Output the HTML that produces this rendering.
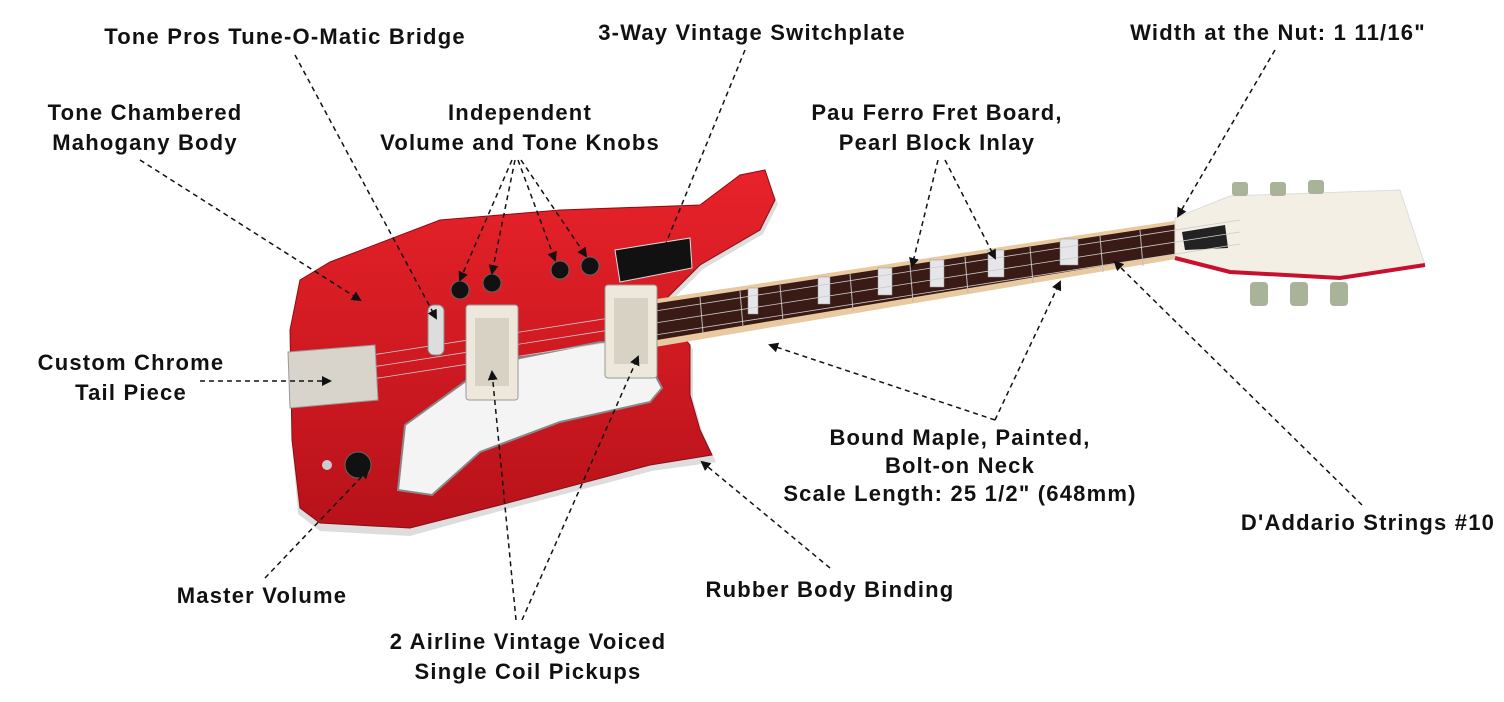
<!DOCTYPE html>
<html><head><meta charset="utf-8"><style>
html,body{margin:0;padding:0;background:#fff;}
svg{display:block;}
text{font-family:"Liberation Sans",Arial,sans-serif;font-weight:bold;font-size:22px;letter-spacing:1.2px;fill:#111;text-anchor:middle;}
.ld{stroke:#111;stroke-width:1.5;stroke-dasharray:5,4;fill:none;marker-end:url(#ah);}
</style></head><body>
<svg width="1504" height="702" viewBox="0 0 1504 702" xmlns="http://www.w3.org/2000/svg">
<defs>
<marker id="ah" markerWidth="10" markerHeight="10" refX="8" refY="5" orient="auto" markerUnits="userSpaceOnUse">
<path d="M0,0 L10,5 L0,10 Z" fill="#111"/></marker>
<linearGradient id="rb" x1="0" y1="0" x2="0" y2="1"><stop offset="0" stop-color="#e8222a"/><stop offset="1" stop-color="#b8121a"/></linearGradient>
</defs>
<path d="M300 284 L330 266 L440 224 L560 214 L700 209 L740 179 L765 174 L778 204 L763 234 L703 269 L668 304 L673 324 L693 349 L693 399 L703 434 L716 462 L652 471 L500 511 L410 536 L320 531 L298 514 L292 444 L290 334 Z" fill="#ddd"/>
<path d="M300 280 L330 262 L440 220 L560 210 L700 205 L740 175 L765 170 L775 200 L760 230 L700 265 L665 300 L670 320 L690 345 L690 395 L700 430 L712 455 L650 465 L500 505 L410 528 L320 523 L300 508 L292 440 L290 330 Z" fill="url(#rb)" stroke="#8a0e14" stroke-width="1"/>
<path d="M405 425 L470 378 L520 358 L600 342 L640 346 L662 388 L650 402 L560 422 L480 452 L432 495 L398 490 Z" fill="#f4f4f4" stroke="#888" stroke-width="2"/>
<path d="M650 300 L1180 220 L1182 258 L655 347 Z" fill="#e8c9a0"/>
<path d="M652 304 L1178 224 L1180 253 L657 340 Z" fill="#3a1a14"/>
<g fill="#e6e6ea" stroke="#999" stroke-width="0.5">
<rect x="748" y="288" width="10" height="26"/><rect x="818" y="277" width="12" height="27"/>
<rect x="878" y="268" width="14" height="27"/><rect x="930" y="260" width="14" height="27"/>
<rect x="988" y="250" width="16" height="27"/><rect x="1060" y="239" width="18" height="26"/>
</g>
<g stroke="#bbb" stroke-width="1">
<line x1="700" y1="297" x2="703" y2="333"/><line x1="740" y1="291" x2="743" y2="327"/><line x1="780" y1="285" x2="783" y2="321"/>
<line x1="850" y1="274" x2="853" y2="311"/><line x1="910" y1="265" x2="913" y2="302"/><line x1="965" y1="257" x2="968" y2="293"/>
<line x1="1030" y1="247" x2="1033" y2="283"/><line x1="1100" y1="236" x2="1103" y2="272"/><line x1="1140" y1="230" x2="1143" y2="266"/>
</g>
<path d="M1175 218 L1230 196 L1400 190 L1425 265 L1340 278 L1230 272 L1175 258 Z" fill="#f3efe4" stroke="#ddd" stroke-width="1"/>
<path d="M1175 258 L1230 272 L1340 278 L1425 265" fill="none" stroke="#c8102e" stroke-width="4"/>
<path d="M1182 232 L1225 225 L1228 248 L1185 250 Z" fill="#222"/>
<g fill="#a9b39a"><rect x="1232" y="182" width="16" height="14" rx="3"/><rect x="1270" y="182" width="16" height="14" rx="3"/><rect x="1308" y="180" width="16" height="14" rx="3"/>
<rect x="1250" y="282" width="18" height="24" rx="4"/><rect x="1290" y="282" width="18" height="24" rx="4"/><rect x="1330" y="282" width="18" height="24" rx="4"/></g>
<g stroke="#ccc" stroke-width="0.8"><line x1="340" y1="360" x2="1240" y2="220"/><line x1="340" y1="372" x2="1240" y2="232"/><line x1="340" y1="384" x2="1240" y2="244"/></g>
<path d="M288 352 L375 345 L378 400 L290 408 Z" fill="#d8d4cc" stroke="#999"/>
<rect x="428" y="305" width="16" height="50" rx="6" fill="#ddd" stroke="#888"/>
<rect x="466" y="305" width="52" height="95" rx="3" fill="#eee8dc" stroke="#999"/>
<rect x="475" y="318" width="34" height="68" fill="#d8d2c4"/>
<rect x="605" y="285" width="52" height="93" rx="3" fill="#eee8dc" stroke="#999"/>
<rect x="614" y="298" width="34" height="66" fill="#d8d2c4"/>
<path d="M615 250 L690 238 L692 268 L620 282 Z" fill="#111" stroke="#ddd"/>
<g fill="#111" stroke="#666"><circle cx="460" cy="290" r="9"/><circle cx="492" cy="283" r="9"/><circle cx="560" cy="270" r="9"/><circle cx="590" cy="266" r="9"/><circle cx="358" cy="465" r="13"/></g>
<circle cx="327" cy="465" r="5" fill="#ccc"/>
<line class="ld" x1="295" y1="55" x2="436" y2="318"/>
<line class="ld" x1="140" y1="160" x2="360" y2="300"/>
<line class="ld" x1="512" y1="160" x2="460" y2="280"/>
<line class="ld" x1="515" y1="160" x2="492" y2="273"/>
<line class="ld" x1="518" y1="160" x2="555" y2="260"/>
<line class="ld" x1="521" y1="160" x2="586" y2="256"/>
<line class="ld" x1="745" y1="50" x2="662" y2="253"/>
<line class="ld" x1="938" y1="160" x2="912" y2="266"/>
<line class="ld" x1="945" y1="160" x2="995" y2="258"/>
<line class="ld" x1="1275" y1="50" x2="1178" y2="216"/>
<line class="ld" x1="200" y1="381" x2="330" y2="381"/>
<line class="ld" x1="265" y1="578" x2="368" y2="470"/>
<line class="ld" x1="516" y1="620" x2="492" y2="372"/>
<line class="ld" x1="522" y1="620" x2="638" y2="357"/>
<line class="ld" x1="830" y1="568" x2="702" y2="462"/>
<line class="ld" x1="995" y1="420" x2="1060" y2="282"/>
<line class="ld" x1="995" y1="420" x2="770" y2="345"/>
<line class="ld" x1="1362" y1="505" x2="1115" y2="262"/>
<text x="285" y="44">Tone Pros Tune-O-Matic Bridge</text>
<text x="145" y="120">Tone Chambered</text><text x="145" y="150">Mahogany Body</text>
<text x="520" y="120">Independent</text><text x="520" y="150">Volume and Tone Knobs</text>
<text x="752" y="40">3-Way Vintage Switchplate</text>
<text x="937" y="120">Pau Ferro Fret Board,</text><text x="937" y="150">Pearl Block Inlay</text>
<text x="1278" y="40">Width at the Nut: 1 11/16"</text>
<text x="131" y="370">Custom Chrome</text><text x="131" y="400">Tail Piece</text>
<text x="262" y="603">Master Volume</text>
<text x="528" y="649">2 Airline Vintage Voiced</text><text x="528" y="679">Single Coil Pickups</text>
<text x="830" y="597">Rubber Body Binding</text>
<text x="960" y="445">Bound Maple, Painted,</text><text x="960" y="473">Bolt-on Neck</text><text x="960" y="501">Scale Length: 25 1/2" (648mm)</text>
<text x="1368" y="530">D'Addario Strings #10</text>
</svg>
</body></html>
